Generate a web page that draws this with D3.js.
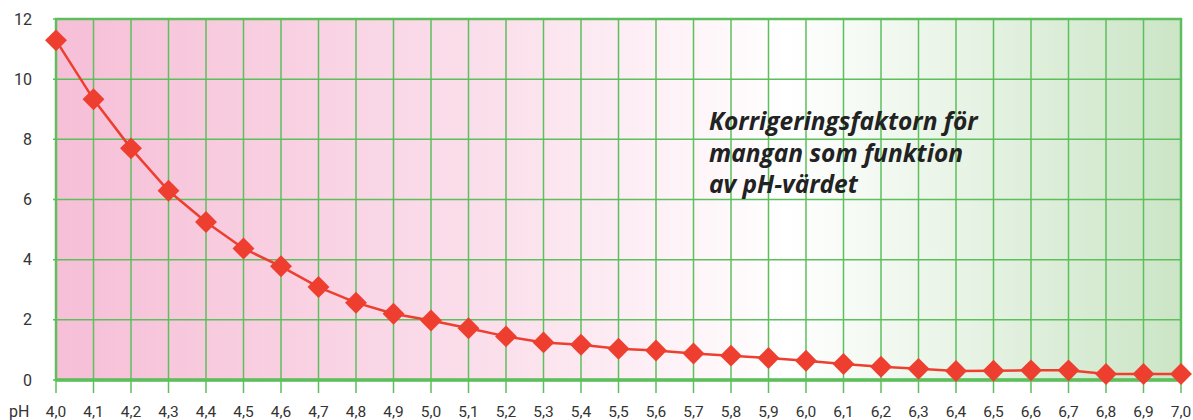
<!DOCTYPE html>
<html>
<head>
<meta charset="utf-8">
<script src="https://cdn.jsdelivr.net/npm/d3@7"></script>
<style>
  body { margin: 0; background: #fff; }
  svg { display: block; }
</style>
</head>
<body>
<svg id="chart" width="1193" height="420"></svg>
<script>
// pH values and correction factor for manganese
const phValues = [4.0, 4.1, 4.2, 4.3, 4.4, 4.5, 4.6, 4.7, 4.8, 4.9,
                  5.0, 5.1, 5.2, 5.3, 5.4, 5.5, 5.6, 5.7, 5.8, 5.9,
                  6.0, 6.1, 6.2, 6.3, 6.4, 6.5, 6.6, 6.7, 6.8, 6.9, 7.0];
const factor = [11.29, 9.33, 7.7, 6.29, 5.25, 4.37, 3.78, 3.09, 2.57, 2.2,
                1.98, 1.72, 1.45, 1.25, 1.17, 1.04, 0.98, 0.88, 0.81, 0.73,
                0.64, 0.53, 0.44, 0.37, 0.3, 0.31, 0.32, 0.32, 0.2, 0.2, 0.2];
const yTicks = [0, 2, 4, 6, 8, 10, 12];
const titleLines = ["Korrigeringsfaktorn för", "mangan som funktion", "av pH-värdet"];

const margin = {top: 19, right: 12, bottom: 40, left: 56};
const width = 1193 - margin.left - margin.right;
const height = 420 - margin.top - margin.bottom;

const svg = d3.select('#chart');

const x = d3.scaleLinear().domain([4.0, 7.0]).range([0, width]);
const y = d3.scaleLinear().domain([0, 12]).range([height, 0]);

const g = svg.append('g')
    .attr('transform', `translate(${margin.left},${margin.top})`);

// background gradient pink -> white -> green
const grad = svg.append('defs').append('linearGradient')
    .attr('id', 'bg').attr('x1', '0%').attr('x2', '100%');
grad.append('stop').attr('offset', '0%').attr('stop-color', '#f6bfd7');
grad.append('stop').attr('offset', '40%').attr('stop-color', '#fbe0ec');
grad.append('stop').attr('offset', '65%').attr('stop-color', '#ffffff');
grad.append('stop').attr('offset', '100%').attr('stop-color', '#cbe5c6');

g.append('rect')
    .attr('width', width).attr('height', height)
    .attr('fill', 'url(#bg)');

// grid
const gridColor = '#5cbf5c';
g.selectAll('.vgrid')
    .data(phValues)
    .enter().append('line')
    .attr('x1', d => x(d)).attr('x2', d => x(d))
    .attr('y1', 0).attr('y2', height + 13)
    .attr('stroke', gridColor).attr('stroke-width', 1.5);

g.selectAll('.hgrid')
    .data(yTicks)
    .enter().append('line')
    .attr('x1', -3).attr('x2', width)
    .attr('y1', d => y(d)).attr('y2', d => y(d))
    .attr('stroke', gridColor).attr('stroke-width', 1.5);

// frame
g.append('rect')
    .attr('width', width).attr('height', height)
    .attr('fill', 'none')
    .attr('stroke', gridColor).attr('stroke-width', 2.5);
g.append('line')
    .attr('x1', 0).attr('x2', width)
    .attr('y1', height).attr('y2', height)
    .attr('stroke', gridColor).attr('stroke-width', 3.5);

// y labels
g.selectAll('.ylab')
    .data(yTicks)
    .enter().append('text')
    .attr('x', -24).attr('y', d => y(d))
    .attr('dy', '0.35em')
    .attr('text-anchor', 'end')
    .attr('font-family', 'Roboto, sans-serif')
    .attr('font-size', 16)
    .attr('fill', '#333')
    .text(d => d);

// x labels
const fmt = d => d.toFixed(1).replace('.', ',');
g.selectAll('.xlab')
    .data(phValues)
    .enter().append('text')
    .attr('x', d => x(d)).attr('y', height + 37)
    .attr('text-anchor', 'middle')
    .attr('font-family', 'Roboto, sans-serif')
    .attr('font-size', 15.5)
    .attr('fill', '#333')
    .text(fmt);

svg.append('text')
    .attr('x', 9).attr('y', margin.top + height + 37)
    .attr('font-family', 'Roboto, sans-serif')
    .attr('font-size', 16)
    .attr('fill', '#333')
    .text('pH');

// line + markers
const pts = phValues.map((p, i) => [p, factor[i]]);
g.append('path')
    .datum(pts)
    .attr('d', d3.line().x(d => x(d[0])).y(d => y(d[1])))
    .attr('fill', 'none')
    .attr('stroke', '#ee3e2f')
    .attr('stroke-width', 2.5);

g.selectAll('.pt')
    .data(pts)
    .enter().append('path')
    .attr('transform', d => `translate(${x(d[0])},${y(d[1])}) rotate(45)`)
    .attr('d', d3.symbol().type(d3.symbolSquare).size(240))
    .attr('fill', '#ee3e2f');

// title
svg.append('text')
    .attr('x', 709).attr('y', 130)
    .attr('font-family', '"Open Sans", sans-serif')
    .attr('font-style', 'italic')
    .attr('font-weight', 'bold')
    .attr('font-size', 24.5)
    .attr('fill', '#222')
    .selectAll('tspan')
    .data(titleLines)
    .enter().append('tspan')
    .attr('x', 709)
    .attr('dy', (d, i) => i === 0 ? 0 : 31.5)
    .text(d => d);
</script>
</body>
</html>
